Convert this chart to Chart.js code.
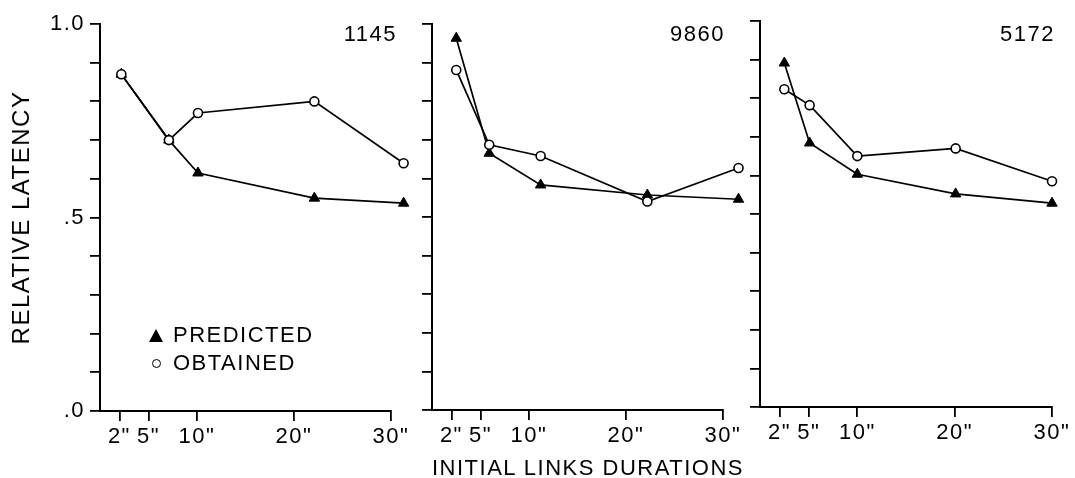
<!DOCTYPE html>
<html>
<head>
<meta charset="utf-8">
<script src="https://cdn.jsdelivr.net/npm/chart.js@4.4.1/dist/chart.umd.min.js"></script>
<style>
  html, body { margin: 0; padding: 0; background: #fff; }
  #wrap { position: relative; width: 1075px; height: 478px; overflow: hidden;
          font-family: "Liberation Sans", Arial, sans-serif; color: #000; }
  #wrap canvas { position: absolute; top: 0; }
  .subj { position: absolute; top: 20px; font-size: 22px; line-height: 28px; letter-spacing: 1.5px; }
  #xtitle { position: absolute; left: 432px; top: 454px; font-size: 22px; line-height: 28px; letter-spacing: 1.5px; white-space: nowrap; }
  #legend { position: absolute; left: 146px; top: 321px; font-size: 22px; line-height: 28px; letter-spacing: 1.5px; }
  #legend .row { display: flex; align-items: center; height: 28px; }
  #legend .mk { width: 20px; display: flex; justify-content: center; margin-right: 7px; }
  .tri { width: 0; height: 0; border-left: 7.5px solid transparent; border-right: 7.5px solid transparent; border-bottom: 13px solid #000; }
  .circ { width: 7px; height: 7px; border: 1.5px solid #000; border-radius: 50%; }
</style>
</head>
<body>
<div id="wrap">
  <canvas id="p1" width="420" height="478" style="left:0px"></canvas>
  <canvas id="p2" width="330" height="478" style="left:420px"></canvas>
  <canvas id="p3" width="330" height="478" style="left:745px"></canvas>
  <div id="legend"></div>
  <div id="xtitle"></div>
</div>
<script>
// subjects and series
const subjects = ['1145', '9860', '5172'];
const seriesNames = ['PREDICTED', 'OBTAINED'];
const tickSeconds = [2, 5, 10, 20, 30];
const latencyTickValues = [0, 0.5, 1];
const latencyTickLabels = ['.0', '.5', '1.0'];
const yAxisTitle = 'RELATIVE LATENCY';
const xAxisTitle = 'INITIAL LINKS DURATIONS';

// subject 1145
const durations1145 = [2.2, 7.1, 10.1, 22.1, 31.3];
const predicted1145 = [0.87, 0.70, 0.615, 0.55, 0.537];
const obtained1145 = [0.87, 0.70, 0.77, 0.80, 0.64];

// subject 9860
const durations9860 = [2.5, 5.9, 11.2, 22.2, 31.6];
const predicted9860 = [0.963, 0.665, 0.583, 0.557, 0.546];
const obtained9860 = [0.881, 0.687, 0.658, 0.54, 0.627];

// subject 5172
const durations5172 = [2.5, 5.1, 10, 20.1, 30];
const predicted5172 = [0.891, 0.684, 0.603, 0.552, 0.528];
const obtained5172 = [0.823, 0.782, 0.65, 0.67, 0.585];

const FONT = '"Liberation Sans", Arial, sans-serif';

// letter spacing for canvas text, the lettering is wide in the original
const spacing = {
  id: 'spacing',
  beforeLayout(chart) { chart.ctx.letterSpacing = '1.5px'; },
  beforeDraw(chart) { chart.ctx.letterSpacing = '1.5px'; }
};

// the last points sit a bit past the 30" tick, let them be drawn there
const overhang = {
  id: 'overhang',
  beforeDatasetsDraw(chart) {
    chart.$right = chart.chartArea.right;
    chart.chartArea.right += 25;
  },
  afterDatasetsDraw(chart) {
    chart.chartArea.right = chart.$right;
  }
};

const panels = [
  { canvas: 'p1', xs: durations1145, pred: predicted1145, obt: obtained1145,
    pad: { left: 0, top: 24, right: 29, bottom: 0 }, yWidth: 100, xHeight: 67,
    yLabels: true, idRight: 397 },
  { canvas: 'p2', xs: durations9860, pred: predicted9860, obt: obtained9860,
    pad: { left: 0, top: 24, right: 27, bottom: 0 }, yWidth: 12, xHeight: 68,
    yLabels: false, idRight: 725 },
  { canvas: 'p3', xs: durations5172, pred: predicted5172, obt: obtained5172,
    pad: { left: 0, top: 21, right: 23, bottom: 0 }, yWidth: 15, xHeight: 71,
    yLabels: false, idRight: 1055 }
];

const axisLine = { display: true, color: '#000', width: 2 };
const tickMarks = { drawOnChartArea: false, drawTicks: true, tickLength: 10, color: '#000', lineWidth: 1.8 };

panels.forEach((p, k) => {
  const ctx = document.getElementById(p.canvas).getContext('2d');
  // eslint-disable-next-line no-unused-vars
  const chart = new Chart(ctx, {
    type: 'line',
    data: {
      datasets: [{
        label: seriesNames[0],
        data: p.xs.map((x, i) => ({ x: x, y: p.pred[i] })),
        borderColor: '#000',
        borderWidth: 1.7,
        pointStyle: 'triangle',
        pointRadius: 6,
        pointBackgroundColor: '#000',
        pointBorderColor: '#000',
        pointBorderWidth: 1,
        order: 2,
        clip: false
      }, {
        label: seriesNames[1],
        data: p.xs.map((x, i) => ({ x: x, y: p.obt[i] })),
        borderColor: '#000',
        borderWidth: 1.7,
        pointStyle: 'circle',
        pointRadius: 4.5,
        pointBackgroundColor: '#fff',
        pointBorderColor: '#000',
        pointBorderWidth: 1.6,
        order: 1,
        clip: false
      }]
    },
    options: {
      responsive: false,
      animation: false,
      events: [],
      layout: { padding: p.pad },
      plugins: { legend: { display: false }, tooltip: { enabled: false } },
      scales: {
        x: {
          type: 'linear',
          min: 0,
          max: 30,
          afterBuildTicks: (s) => { s.ticks = tickSeconds.map(v => ({ value: v })); },
          afterFit: (s) => { s.height = p.xHeight; },
          grid: tickMarks,
          border: axisLine,
          ticks: { color: '#000', font: { size: 22, family: FONT }, padding: 3,
            autoSkip: false, maxRotation: 0, callback: v => v + '"' }
        },
        y: {
          min: 0,
          max: 1,
          afterFit: (s) => { s.width = p.yWidth; },
          grid: tickMarks,
          border: axisLine,
          ticks: { stepSize: 0.1, color: '#000', font: { size: 22, family: FONT }, padding: 5,
            callback: (v) => {
              if (!p.yLabels) return '';
              const j = latencyTickValues.findIndex(t => Math.abs(t - v) < 1e-6);
              return j >= 0 ? latencyTickLabels[j] : '';
            } },
          title: { display: k === 0, text: yAxisTitle, color: '#000',
            font: { size: 24, family: FONT }, padding: { top: 8, bottom: 0 } }
        }
      }
    },
    plugins: [spacing, overhang]
  });

  const id = document.createElement('div');
  id.className = 'subj';
  id.style.right = (1075 - p.idRight) + 'px';
  id.textContent = subjects[k];
  document.getElementById('wrap').appendChild(id);
});

document.getElementById('xtitle').textContent = xAxisTitle;

// legend, drawn once in the first panel
const legend = document.getElementById('legend');
seriesNames.forEach((name, i) => {
  const row = document.createElement('div');
  row.className = 'row';
  row.innerHTML = '<span class="mk"><span class="' + (i === 0 ? 'tri' : 'circ') + '"></span></span>' + name;
  legend.appendChild(row);
});
</script>
</body>
</html>
